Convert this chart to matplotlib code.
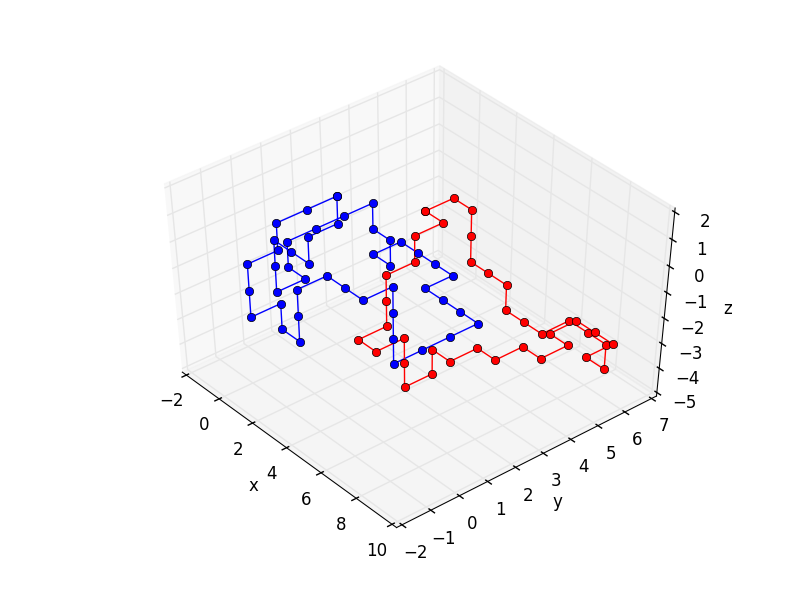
import matplotlib
matplotlib.use("Agg")
import matplotlib.pyplot as plt
from mpl_toolkits.mplot3d import Axes3D

plt.style.use("classic")

# ── Blue loop ──────────────────────────────────────────
blue_x = [2, 2, 2, 2, 2, 2, 2, 2, 2, 3, 3, 3, 3, 4, 5, 5, 5, 5, 5, 5, 5, 5, 4, 3,
          2, 2, 1, 0, -1, -1, 0, 0, -1, -1, -1, -1, -1, -1, 0, 0, 0, 0, 1, 2, 2, 2, 2]
blue_y = [1, 0, -1, -1, -2, -2, -2, -1, -1, -1, -1, -1, 0, 0, 0, 1, 1, 1, 1, 2, 3, 4, 4, 4,
          4, 5, 5, 5, 5, 4, 4, 4, 4, 4, 3, 2, 1, 1, 1, 0, 0, 0, 0, 0, 0, 1, 1]
blue_z = [2, 2, 2, 1, 1, 0, -1, -1, -2, -2, -1, 0, 0, 0, 0, 0, -1, -2, -3, -3, -3, -3, -3, -3,
          -3, -3, -3, -3, -3, -3, -3, -2, -2, -1, -1, -1, -1, -2, -2, -2, -1, 0, 0, 0, 1, 1, 2]

# ── Red loop ───────────────────────────────────────────
red_x = [2, 2, 3, 3, 3, 4, 5, 5, 6, 7, 7, 8, 9, 9, 8, 8, 7, 6, 6, 7, 7, 6, 6, 5, 5, 4,
         4, 4, 4, 4, 4, 3, 3, 3, 3, 3, 3, 3, 2]
red_y = [4, 5, 5, 5, 5, 5, 5, 5, 5, 5, 6, 6, 6, 6, 6, 7, 7, 7, 6, 6, 5, 5, 4, 4, 3, 3,
         3, 2, 2, 2, 1, 1, 2, 2, 2, 3, 3, 4, 4]
red_z = [0, 0, 0, -1, -2, -2, -2, -3, -3, -3, -3, -3, -3, -4, -4, -4, -4, -4, -4, -4, -4, -4,
         -4, -4, -4, -4, -5, -5, -4, -3, -3, -3, -3, -2, -1, -1, 0, 0, 0]

x_ticks = [-2, 0, 2, 4, 6, 8, 10]
y_ticks = [-2, -1, 0, 1, 2, 3, 4, 5, 6, 7]
z_ticks = [-5, -4, -3, -2, -1, 0, 1, 2]

fig = plt.figure(figsize=(8, 6), dpi=100)
ax = fig.add_subplot(111, projection="3d")
ax.computed_zorder = False

# lines go under all the markers
ax.plot(blue_x, blue_y, blue_z, "b-", zorder=2)
ax.plot(red_x, red_y, red_z, "r-", zorder=2)
ax.plot(blue_x, blue_y, blue_z, "bo", markersize=6, zorder=3)
ax.plot(red_x, red_y, red_z, "ro", markersize=6, zorder=3)

# old mplot3d drew the box a little wider than the axis limits
margin = 1 / 48
ax.set_xlim(-2, 10, view_margin=margin)
ax.set_ylim(-2, 7, view_margin=margin)
ax.set_zlim(-5, 2, view_margin=margin)
ax.set_xticks(x_ticks)
ax.set_yticks(y_ticks)
ax.set_zticks(z_ticks)
ax.set_xlabel("x")
ax.set_ylabel("y")
ax.set_zlabel("z")
ax.view_init(elev=46, azim=-40)

# old-style mplot3d: unit cube stretched over the whole subplot
ax.set_box_aspect((1, 1, 1), zoom=0.947)
ax.apply_aspect = lambda position=None: None

plt.savefig("out.png", dpi=100)
